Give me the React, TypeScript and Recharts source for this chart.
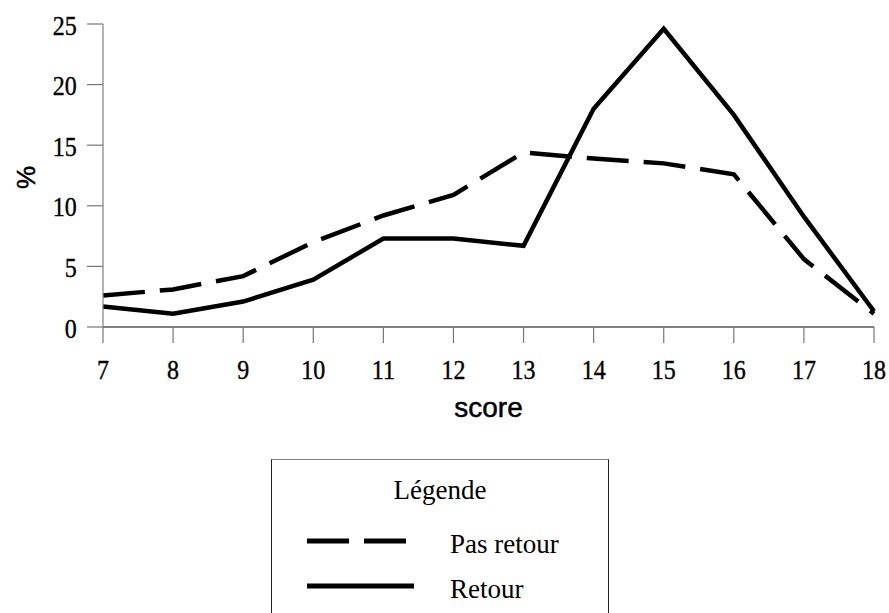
import { Legend, Line, LineChart, XAxis, YAxis } from 'recharts';

const scores = [7, 8, 9, 10, 11, 12, 13, 14, 15, 16, 17, 18];
const pasRetour = [2.6, 3.1, 4.2, 7.0, 9.2, 10.9, 14.4, 13.9, 13.5, 12.6, 5.6, 1.1];
const retour = [1.7, 1.1, 2.1, 3.9, 7.3, 7.3, 6.7, 18.0, 24.6, 17.5, 9.1, 1.3];
const yTicks = [0, 5, 10, 15, 20, 25];

const data = scores.map((s, i) => ({ score: s, pasRetour: pasRetour[i], retour: retour[i] }));

const SERIF = '"Liberation Serif", "Times New Roman", serif';
const SANS = '"Liberation Sans", Arial, sans-serif';

// tick digits in the original are a little taller than plain Times
const XTick = ({ x, y, payload }: any) => (
  <g transform={`translate(${x},${y})`}>
    <text
      transform="scale(1,1.1)"
      y={31.2}
      textAnchor="middle"
      fontFamily={SERIF}
      fontSize={24}
      fill="#000"
      stroke="#000"
      strokeWidth={0.35}
    >
      {payload.value}
    </text>
  </g>
);

const YTick = ({ x, y, payload }: any) => (
  <g transform={`translate(${x - 8.3},${y})`}>
    <text
      transform="scale(1,1.1)"
      y={9.7}
      textAnchor="end"
      fontFamily={SERIF}
      fontSize={24}
      fill="#000"
      stroke="#000"
      strokeWidth={0.35}
    >
      {payload.value}
    </text>
  </g>
);

const LegendBox = ({ payload }: any) => {
  const items = payload || [];
  return (
    <div
      style={{
        width: 338,
        height: 170,
        boxSizing: 'border-box',
        borderLeft: '1.5px solid #222',
        borderRight: '1.5px solid #222',
        borderTop: '1.5px solid #808080',
        background: '#fff',
      }}
    >
      <svg width={336} height={168}>
        <text x={168} y={39} textAnchor="middle" fontFamily={SERIF} fontSize={27} fill="#000">
          Légende
        </text>
        {items.map((item: any, i: number) => {
          const ly = 81 + i * 45;
          return (
            <g key={item.value}>
              <line
                x1={35}
                x2={142}
                y1={ly}
                y2={ly}
                stroke="#000"
                strokeWidth={5}
                strokeDasharray={item.payload?.strokeDasharray}
              />
              <text x={178} y={ly + 12} fontFamily={SERIF} fontSize={27} fill="#000">
                {item.value}
              </text>
            </g>
          );
        })}
      </svg>
    </div>
  );
};

export default function App() {
  return (
    <div style={{ position: 'absolute', left: 0, top: 0, width: 889, height: 613, overflow: 'hidden', background: '#fff' }}>
      <LineChart width={889} height={613} data={data} margin={{ top: 24, right: 15, bottom: 196, left: 0 }}>
        <XAxis
          dataKey="score"
          type="number"
          domain={[7, 18]}
          ticks={scores}
          interval={0}
          height={90}
          tickSize={16}
          tickMargin={2}
          axisLine={{ stroke: '#000', strokeWidth: 1.2 }}
          tickLine={{ stroke: '#777', strokeWidth: 1.2 }}
          tick={<XTick />}
          label={{
            content: ({ viewBox }: any) => (
              <text
                x={viewBox.x + viewBox.width / 2}
                y={viewBox.y + 90}
                textAnchor="middle"
                fontFamily={SANS}
                fontSize={28}
                fill="#000"
                stroke="#000"
                strokeWidth={0.5}
              >
                score
              </text>
            ),
          }}
        />
        <YAxis
          type="number"
          domain={[0, 25]}
          ticks={yTicks}
          interval={0}
          width={103}
          tickSize={16}
          tickMargin={2}
          axisLine={{ stroke: '#808080', strokeWidth: 1.2 }}
          tickLine={{ stroke: '#777', strokeWidth: 1.2 }}
          tick={<YTick />}
          label={{
            content: ({ viewBox }: any) => {
              const cx = 26;
              const cy = viewBox.y + viewBox.height / 2 + 2;
              return (
                <text
                  x={cx}
                  y={cy}
                  transform={`rotate(-90, ${cx}, ${cy})`}
                  textAnchor="middle"
                  dominantBaseline="central"
                  fontFamily={SANS}
                  fontSize={26}
                  fill="#000"
                  stroke="#000"
                  strokeWidth={0.5}
                >
                  %
                </text>
              );
            },
          }}
        />
        <Legend
          layout="horizontal"
          verticalAlign="middle"
          align="center"
          wrapperStyle={{ left: 271, top: 459, width: 338, height: 170 }}
          content={<LegendBox />}
        />
        <Line
          type="linear"
          dataKey="pasRetour"
          name="Pas retour"
          stroke="#000"
          strokeWidth={4.5}
          strokeDasharray="42 15"
          dot={false}
          isAnimationActive={false}
        />
        <Line
          type="linear"
          dataKey="retour"
          name="Retour"
          stroke="#000"
          strokeWidth={4.5}
          dot={false}
          isAnimationActive={false}
        />
      </LineChart>
    </div>
  );
}
